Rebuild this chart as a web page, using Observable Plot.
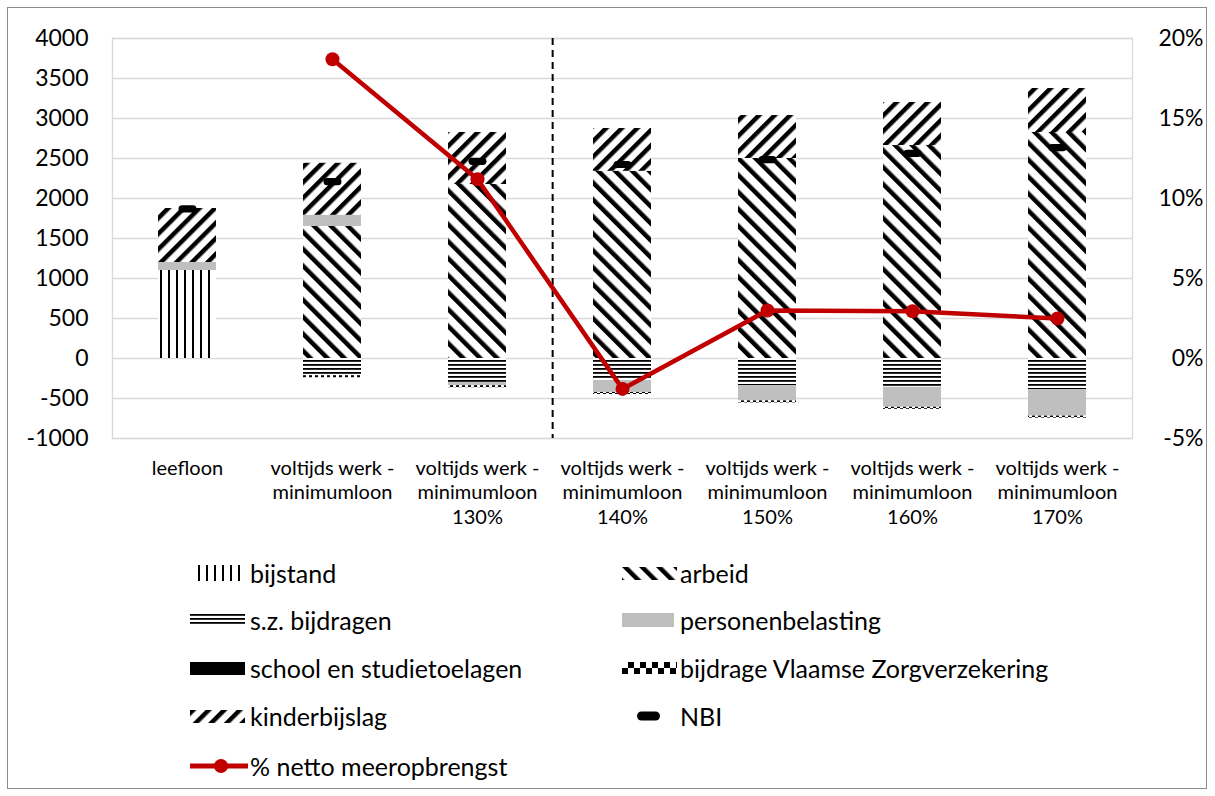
<!DOCTYPE html>
<html>
<head>
<meta charset="utf-8">
<script src="https://cdn.jsdelivr.net/npm/d3@7"></script>
<script src="https://cdn.jsdelivr.net/npm/@observablehq/plot@0.6"></script>
<style>
  html, body { margin: 0; padding: 0; background: #fff; }
  #wrap { position: relative; width: 1215px; height: 796px; font-family: Lato, "Open Sans", sans-serif; overflow: hidden; }
  #border { position: absolute; left: 7px; top: 7px; width: 1200px; height: 782px; border: 1px solid #8c8c8c; box-sizing: border-box; }
  #chart { position: absolute; left: 0; top: 0; }
  .item { position: absolute; height: 30px; display: flex; align-items: center; font-size: 25px; color: #000; white-space: nowrap; }
  .item svg { display: block; }
</style>
</head>
<body>
<svg width="0" height="0" style="position:absolute">
  <defs>
    <pattern id="pat-bijstand" patternUnits="userSpaceOnUse" width="8" height="8">
      <rect width="8" height="8" fill="#fff"/>
      <rect x="0" width="2" height="8" fill="#000"/>
    </pattern>
    <pattern id="pat-arbeid" patternUnits="userSpaceOnUse" width="12" height="12" patternTransform="rotate(-45)">
      <rect width="12" height="12" fill="#fff"/>
      <rect x="0" width="4.5" height="12" fill="#000"/>
    </pattern>
    <pattern id="pat-kb" patternUnits="userSpaceOnUse" width="11" height="11" patternTransform="rotate(45)">
      <rect width="11" height="11" fill="#fff"/>
      <rect x="0" width="4.5" height="11" fill="#000"/>
    </pattern>
    <pattern id="pat-sz" patternUnits="userSpaceOnUse" width="8" height="4">
      <rect width="8" height="4" fill="#fff"/>
      <rect y="0" width="8" height="1.8" fill="#000"/>
    </pattern>
    <pattern id="pat-zorg" patternUnits="userSpaceOnUse" width="6" height="6">
      <rect width="6" height="6" fill="#fff"/>
      <rect x="0" y="0" width="3" height="3" fill="#000"/>
      <rect x="3" y="3" width="3" height="3" fill="#000"/>
    </pattern>
    <pattern id="pat-zorg-leg" patternUnits="userSpaceOnUse" width="12" height="12">
      <rect width="12" height="12" fill="#fff"/>
      <rect x="0" y="6" width="6" height="6" fill="#000"/>
      <rect x="6" y="0" width="6" height="6" fill="#000"/>
    </pattern>
  </defs>
</svg>
<div id="wrap">
  <div id="border"></div>
  <div id="chart"></div>
  <div id="legend"></div>
</div>
<script>
// ---- data ----
const categories = [
  "leefloon",
  "voltijds werk -\nminimumloon",
  "voltijds werk -\nminimumloon\n130%",
  "voltijds werk -\nminimumloon\n140%",
  "voltijds werk -\nminimumloon\n150%",
  "voltijds werk -\nminimumloon\n160%",
  "voltijds werk -\nminimumloon\n170%"
];
const bijstand          = [1100,    0,    0,    0,    0,    0,    0];
const arbeid            = [   0, 1650, 2175, 2340, 2500, 2662, 2825];
const szBijdragen       = [   0, -215, -300, -275, -340, -360, -390];
const personenbelasting = [ 100,  140,  -40, -150, -190, -250, -330];
const schoolToelagen    = [   0,    0,    0,    0,    0,    0,    0];
const zorgVerzekering   = [   0,  -25,  -25,  -25,  -25,  -25,  -25];
const kinderbijslag     = [ 675,  650,  650,  535,  537,  538,  550];
const nbi               = [1870, 2210, 2465, 2425, 2485, 2565, 2635];
const nettoMeeropbrengst = [null, 18.7, 11.2, -1.9, 3.0, 2.95, 2.5]; // %
const leftTicks  = [-1000, -500, 0, 500, 1000, 1500, 2000, 2500, 3000, 3500, 4000];
const rightTicks = [-5, 0, 5, 10, 15, 20]; // %

// ---- build table ----
const series = [
  {name: "bijstand", values: bijstand, fill: "url(#pat-bijstand)"},
  {name: "arbeid", values: arbeid, fill: "url(#pat-arbeid)"},
  {name: "s.z. bijdragen", values: szBijdragen, fill: "url(#pat-sz)"},
  {name: "personenbelasting", values: personenbelasting, fill: "#bfbfbf"},
  {name: "school en studietoelagen", values: schoolToelagen, fill: "#000000"},
  {name: "bijdrage Vlaamse Zorgverzekering", values: zorgVerzekering, fill: "url(#pat-zorg)"},
  {name: "kinderbijslag", values: kinderbijslag, fill: "url(#pat-kb)"}
];
const rows = [];
for (const s of series) categories.forEach((c, i) => rows.push({cat: c, series: s.name, value: s.values[i], fill: s.fill}));
const nbiRows = categories.map((c, i) => ({cat: c, nbi: nbi[i]}));
const pctRows = categories.map((c, i) => ({cat: c, pct: nettoMeeropbrengst[i]})).filter(d => d.pct != null);
const pctScale = 200; // -5%..20% maps onto -1000..4000

const pill = {
  draw(ctx) {
    const w = 9, h = 3.6;
    ctx.moveTo(-w + h, -h);
    ctx.lineTo(w - h, -h);
    ctx.arc(w - h, 0, h, -Math.PI / 2, Math.PI / 2);
    ctx.lineTo(-w + h, h);
    ctx.arc(-w + h, 0, h, Math.PI / 2, 3 * Math.PI / 2);
    ctx.closePath();
  }
};

const W = 1215, H = 540;
const mL = 112, mR = W - 1132, mT = 38, mB = H - 438;
const step = (W - mL - mR) / categories.length;

const chart = Plot.plot({
  width: W, height: H,
  marginLeft: mL, marginRight: mR, marginTop: mT, marginBottom: mB,
  style: {fontFamily: "Lato, 'Open Sans', sans-serif", color: "#000", background: "transparent"},
  x: {domain: categories, paddingInner: 0.6, paddingOuter: 0.3, axis: null},
  y: {domain: [-1000, 4000], axis: null},
  color: {type: "identity"},
  marks: [
    Plot.gridY(leftTicks, {stroke: "#d9d9d9", strokeOpacity: 1, strokeWidth: 1.3}),
    Plot.frame({stroke: "#d9d9d9", strokeWidth: 1.3}),
    Plot.barY(rows, {x: "cat", y: "value", z: "series", fill: "fill"}),
    Plot.ruleX([categories[3]], {dx: -step / 2 + 3, stroke: "#000", strokeWidth: 2, strokeDasharray: "7,5"}),
    Plot.dot(nbiRows, {x: "cat", y: "nbi", symbol: pill, fill: "#000", stroke: "none", r: 5}),
    Plot.line(pctRows, {x: "cat", y: d => d.pct * pctScale, stroke: "#c00000", strokeWidth: 4.5}),
    Plot.dot(pctRows, {x: "cat", y: d => d.pct * pctScale, r: 7, fill: "#c00000", stroke: "none"}),
    Plot.axisY({anchor: "left", ticks: leftTicks, tickSize: 0, tickPadding: 24, fontSize: 23, tickFormat: d => String(d), label: null}),
    Plot.axisY({anchor: "right", ticks: rightTicks.map(p => p * pctScale), tickSize: 0, tickPadding: 0, dx: 71, textAnchor: "end", fontSize: 23, tickFormat: d => (d / pctScale) + "%", label: null}),
    Plot.axisX({anchor: "bottom", tickSize: 0, tickPadding: 19, fontSize: 20, lineHeight: 1.22, label: null})
  ]
});
document.getElementById("chart").appendChild(chart);

// ---- legend ----
const swatches = {
  "bijstand": `<svg width="60" height="16"><rect x="6" y="0" width="48" height="16" fill="url(#pat-bijstand)"/></svg>`,
  "arbeid": `<svg width="58" height="13"><rect width="55" height="13" fill="url(#pat-arbeid)"/></svg>`,
  "s.z. bijdragen": `<svg width="60" height="12"><rect width="55" height="12" fill="url(#pat-sz)"/></svg>`,
  "personenbelasting": `<svg width="58" height="14"><rect width="52" height="14" fill="#bfbfbf"/></svg>`,
  "school en studietoelagen": `<svg width="60" height="13"><rect width="55" height="13" fill="#000"/></svg>`,
  "bijdrage Vlaamse Zorgverzekering": `<svg width="58" height="12"><rect width="55" height="12" fill="url(#pat-zorg-leg)"/></svg>`,
  "kinderbijslag": `<svg width="60" height="13"><rect width="55" height="13" fill="url(#pat-kb)"/></svg>`,
  "NBI": `<svg width="58" height="12"><rect x="15" y="1.5" width="23" height="9" rx="4.5" fill="#000"/></svg>`,
  "% netto meeropbrengst": `<svg width="60" height="16"><line x1="0" x2="58" y1="8" y2="8" stroke="#c00000" stroke-width="5"/><circle cx="31" cy="8" r="7" fill="#c00000"/></svg>`
};
const legendItems = [...series.map(s => s.name), "NBI", "% netto meeropbrengst"];
const rowY = [573, 620, 668, 716, 766];
const colX = [190, 622];
const legend = document.getElementById("legend");
legendItems.forEach((name, i) => {
  const div = document.createElement("div");
  div.className = "item";
  div.style.left = colX[i % 2] + "px";
  div.style.top = (rowY[Math.floor(i / 2)] - 15) + "px";
  div.innerHTML = swatches[name] + `<span>${name}</span>`;
  legend.appendChild(div);
});
</script>
</body>
</html>
